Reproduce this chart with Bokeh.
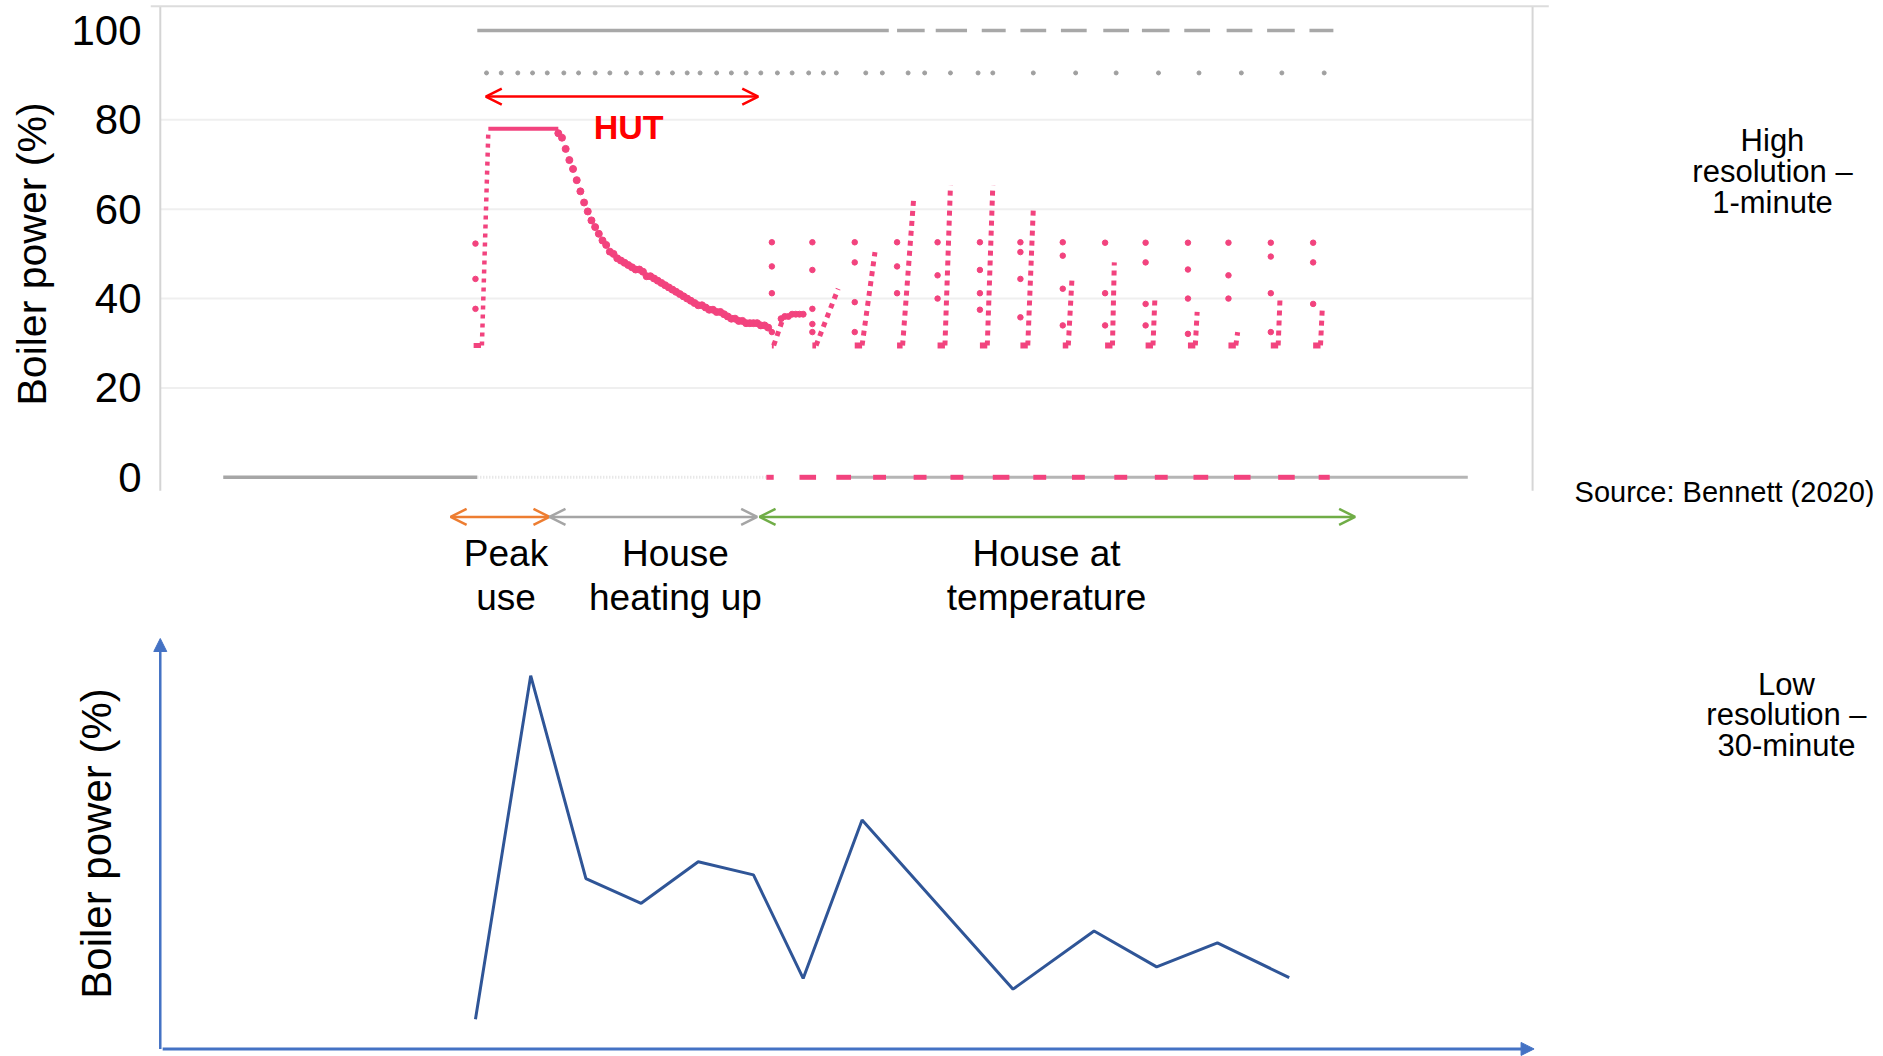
from bokeh.plotting import figure
from bokeh.layouts import column
from bokeh.models import Range1d, LinearAxis, FixedTicker, Arrow, OpenHead, NormalHead
from bokeh.core.properties import value
from bokeh.embed import file_html
from bokeh.resources import INLINE

# ------------------------------------------------------------------
# DATA  (time t in minutes, 0 = start of heating; power in %)
# ------------------------------------------------------------------
y_ticks = [0, 20, 40, 60, 80, 100]

# high resolution (1-minute) boiler power
peak_scatter_t = [-1, -1, -1]
peak_scatter_v = [52.3, 44.4, 37.7]
peak_base_t = [-2, 2]
rise_t = [2.5, 6.0]
rise_v = [29.5, 77.5]
plateau_t = [6, 44]
plateau_v = [78, 78]
decline_t = [44, 46, 48, 50, 52, 54, 56, 58, 60, 62, 64, 66, 68, 70, 72, 74, 76, 78, 80, 82,
             84, 86, 88, 90, 92, 94, 96, 98, 100, 102, 104, 106, 108, 110, 112, 114, 116, 118,
             120, 122, 124, 126, 128, 130, 132, 134, 136, 138, 140, 142, 144, 146, 148, 150,
             152, 154, 156, 158]
decline_v = [77.0, 76.0, 73.5, 71.0, 69.0, 66.5, 64.0, 61.5, 59.5, 57.5, 56.0, 54.5, 53.0, 52.0,
             50.5, 50.0, 49.0, 48.5, 48.0, 47.5, 47.0, 46.5, 46.5, 46.0, 45.0, 45.0, 44.5, 44.0,
             43.5, 43.0, 42.5, 42.0, 41.5, 41.0, 40.5, 40.0, 39.5, 39.0, 38.5, 38.5, 38.0, 37.5,
             37.5, 37.0, 37.0, 36.5, 36.0, 35.5, 35.5, 35.0, 35.0, 34.5, 34.5, 34.5, 34.5, 34.0,
             34.0, 33.5]
cycle1_plateau_t = [165, 167, 169, 171, 173, 175, 177]
cycle1_plateau_v = [35.5, 36.0, 36.0, 36.5, 36.5, 36.5, 36.5]
cycle_min_level = 29.5
cycle_t = [160, 182, 205, 228, 250, 273, 295, 318, 341, 363, 386, 408, 431, 454]
cycle_sparse_v = [[52.6, 47.2, 41.2, 32.5], [52.6, 46.4, 37.7, 34.3, 32.5], [52.6, 48.1, 39.2, 32.5],
                  [52.6, 47.2, 41.2], [52.6, 45.2, 40.0], [52.6, 46.4, 41.2, 37.5],
                  [52.6, 50.4, 44.4, 35.8], [52.6, 49.6, 42.2, 34.0], [52.5, 41.2, 34.0],
                  [52.5, 48.1, 38.8, 34.0], [52.5, 46.5, 40.0, 32.1], [52.5, 45.2, 40.0],
                  [52.5, 49.4, 41.2, 32.5], [52.5, 48.1, 38.8]]
ramp_t0 = [161, 184, 209, 231, 254, 277, 299, 321, 345, 367, 390, 412, 435, 458]
ramp_t1 = [166, 196, 216, 237, 257, 280, 302, 323, 346, 368, 391, 413, 436, 459]
ramp_top = [35.5, 42.2, 50.4, 62.3, 65.3, 65.3, 60.1, 44.4, 48.1, 39.6, 37.0, 32.5, 40.0, 38.1]
off_t0 = [157, 175, 195, 215, 237, 257, 280, 302, 323, 346, 368, 389, 411, 435, 457]
off_t1 = [161, 184, 203, 222, 244, 264, 289, 309, 330, 353, 375, 397, 420, 444, 463]

# grey reference series
max_level = 100
max_on_t0 = [0, 228, 249, 274, 295, 317, 340, 361, 384, 407, 429, 452]
max_on_t1 = [223.5, 243, 266, 287, 309, 331, 354, 376, 398, 421, 444, 465]
setpoint_level = 90.5
setpoint_t = [5, 13, 22, 30, 38, 47, 55, 64, 72, 81, 89, 98, 106, 114, 121, 130, 138, 146, 154,
              163, 171, 180, 188, 195, 211, 220, 234, 243, 257, 272, 280, 302, 325, 347, 370,
              392, 415, 437, 460]
base_off_t = [-138, 0]
base_faint_t = [0, 157]
base_late_t = [202, 538]

# HUT annotation and phases
hut_t = [4.6, 152.6]
hut_level = 85.2
phase_names = ["Peak\nuse", "House\nheating up", "House at\ntemperature"]
phase_t0 = [-14.5, 39.2, 153.3]
phase_t1 = [39.2, 152.0, 476.8]
phase_label_t = [15.6, 107.6, 309.2]
phase_colors = ["#ED7D31", "#A5A5A5", "#70AD47"]

# low resolution (30-minute) boiler power (relative units)
low_t = [-1, 29, 59, 89, 120, 150, 177, 209, 291, 335, 369, 402, 441]
low_v = [7.2, 90.5, 41.3, 35.3, 45.4, 42.2, 17.1, 55.5, 14.5, 28.6, 19.9, 25.7, 17.3]

# ------------------------------------------------------------------
PINK = "#F2437E"
GREY = "#A6A6A6"
BLUE_AX = "#4472C4"
BLUE_LN = "#2F5597"
FONT = value("Liberation Sans")

T_START, T_END = -177.51, 763.8     # visible time span of all panels
AXIS_T = -172.2                     # left border of the charts
GRID_END = 573.2                    # right border of the scatter chart
W = 1883
LEFT = 150


def make_fig(height, x_range, y_range):
    p = figure(width=W, height=height, x_range=x_range, y_range=y_range,
               x_axis_type=None, y_axis_type=None, output_backend="svg",
               toolbar_location=None, min_border_left=LEFT, min_border_right=0,
               min_border_top=0, min_border_bottom=0)
    p.outline_line_color = None
    p.background_fill_color = "white"
    p.border_fill_color = "white"
    return p


xr = Range1d(T_START, T_END)

# ---------------- top: high-resolution chart ----------------
top = make_fig(507, xr, Range1d(-6.76, 106.71))
ax = LinearAxis(ticker=FixedTicker(ticks=y_ticks), axis_label="Boiler power (%)",
                axis_label_text_font="Liberation Sans", axis_label_text_font_size="41px",
                axis_label_text_font_style="normal", axis_label_text_color="black",
                major_label_text_font="Liberation Sans", major_label_text_font_size="42px",
                major_label_text_color="black", major_tick_line_color=None,
                minor_tick_line_color=None, major_tick_out=0, major_tick_in=0,
                minor_tick_out=0, minor_tick_in=0, axis_line_color=None,
                major_label_standoff=9, axis_label_standoff=13)
top.add_layout(ax, "left")

grid_levels = y_ticks[1:-1]
top.segment(x0=AXIS_T, x1=GRID_END, y0=grid_levels, y1=grid_levels,
            line_color="#efefef", line_width=2)
top.segment(x0=AXIS_T, x1=AXIS_T, y0=-3, y1=105.4, line_color="#d4d4d4", line_width=2)
top.segment(x0=GRID_END, x1=GRID_END, y0=-3, y1=105.4, line_color="#d6d6d6", line_width=2)
top.segment(x0=T_START, x1=582, y0=105.4, y1=105.4, line_color="#dcdcdc", line_width=2)

# grey series
top.line(base_off_t, 0, line_color=GREY, line_width=3.5)
top.line(base_faint_t, 0, line_color="#dedede", line_width=3, line_dash="1 2")
top.line(base_late_t, 0, line_color="#b5b5b5", line_width=3)
top.segment(x0=max_on_t0, x1=max_on_t1, y0=max_level, y1=max_level,
            line_color="#a8a8a8", line_width=3.5)
top.scatter(x=setpoint_t, y=setpoint_level, size=4, color="#a0a0a0", marker="circle")

# pink high-resolution series
top.segment(x0=off_t0, x1=off_t1, y0=0, y1=0, line_color=PINK, line_width=5)
top.scatter(peak_scatter_t, peak_scatter_v, size=5.5, color=PINK)
top.line(peak_base_t, cycle_min_level, line_color=PINK, line_width=5)
top.line(rise_t, rise_v, line_color=PINK, line_width=4.5, line_dash="4 5")
top.line(plateau_t, plateau_v, line_color=PINK, line_width=4)
top.scatter(decline_t, decline_v, size=7, color=PINK)
top.scatter(cycle1_plateau_t, cycle1_plateau_v, size=6, color=PINK)
top.segment(x0=cycle_t, x1=ramp_t0, y0=cycle_min_level, y1=cycle_min_level,
            line_color=PINK, line_width=6)
sp_t, sp_v = [], []
for t, vs in zip(cycle_t, cycle_sparse_v):
    for v in vs:
        sp_t.append(t)
        sp_v.append(v)
top.scatter(sp_t, sp_v, size=5.5, color=PINK)
top.segment(x0=ramp_t0, x1=ramp_t1, y0=cycle_min_level, y1=ramp_top,
            line_color=PINK, line_width=5, line_dash="5 5")

# HUT arrow
top.add_layout(Arrow(x_start=hut_t[0], x_end=hut_t[1], y_start=hut_level, y_end=hut_level,
                     line_color="#FF0000", line_width=2.5,
                     start=OpenHead(size=16, line_color="#FF0000", line_width=2.5),
                     end=OpenHead(size=16, line_color="#FF0000", line_width=2.5)))
top.text(x=[82.2], y=[78.5], text=["HUT"], text_font=FONT, text_font_size="34px",
         text_font_style="bold", text_color="#FF0000", text_align="center",
         text_baseline="middle")

top.text(x=[703.5], y=[68.4], text=["High\nresolution \u2013\n1-minute"], text_font=FONT,
         text_font_size="31px", text_color="black", text_align="center",
         text_baseline="middle", text_line_height=0.88)
top.text(x=[596.0], y=[-3.4], text=["Source: Bennett (2020)"], text_font=FONT,
         text_font_size="29px", text_color="black", text_align="left",
         text_baseline="middle")

# ---------------- middle: phases ----------------
mid = make_fig(123, xr, Range1d(0, 123))
for t0, t1, c in zip(phase_t0, phase_t1, phase_colors):
    mid.add_layout(Arrow(x_start=t0, x_end=t1, y_start=113.6, y_end=113.6, line_color=c,
                         line_width=2.5,
                         start=OpenHead(size=16, line_color=c, line_width=2.5),
                         end=OpenHead(size=16, line_color=c, line_width=2.5)))
mid.text(x=phase_label_t, y=55, text=phase_names, text_font=FONT, text_font_size="37px",
         text_color="black", text_align="center", text_baseline="middle",
         text_line_height=1.07)

# ---------------- bottom: low-resolution chart ----------------
bot = make_fig(426, xr, Range1d(-1.83, 101.44))
bax = LinearAxis(ticker=FixedTicker(ticks=[]), axis_label="Boiler power (%)",
                 axis_label_text_font="Liberation Sans", axis_label_text_font_size="42px",
                 axis_label_text_font_style="normal", axis_label_text_color="black",
                 axis_line_color=None, major_tick_line_color=None, minor_tick_line_color=None,
                 major_tick_out=0, minor_tick_out=0, major_label_text_font_size="0px",
                 axis_label_standoff=31)
bot.add_layout(bax, "left")
bot.add_layout(Arrow(x_start=AXIS_T, x_end=AXIS_T, y_start=0, y_end=99.5,
                     line_color=BLUE_AX, line_width=2.5,
                     end=NormalHead(size=13, fill_color=BLUE_AX, line_color=BLUE_AX)))
bot.add_layout(Arrow(x_start=-170.9, x_end=574, y_start=0, y_end=0, line_color=BLUE_AX,
                     line_width=3,
                     end=NormalHead(size=13, fill_color=BLUE_AX, line_color=BLUE_AX)))
bot.line(low_t, low_v, line_color=BLUE_LN, line_width=3)
bot.text(x=[711.1], y=[80.96], text=["Low\nresolution \u2013\n30-minute"], text_font=FONT,
         text_font_size="31px", text_color="black", text_align="center",
         text_baseline="middle", text_line_height=0.88)

layout = column(top, mid, bot, spacing=0)
open("out.html", "w").write(file_html(layout, INLINE))
